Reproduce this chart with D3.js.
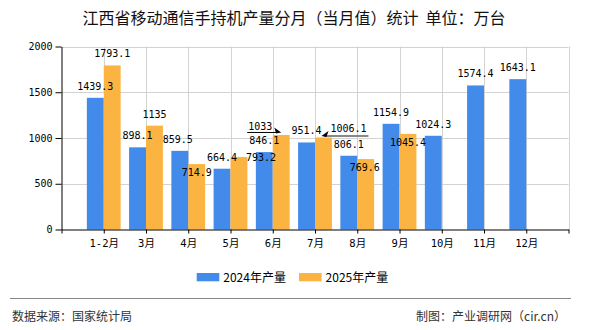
<!DOCTYPE html>
<html><head><meta charset="utf-8">
<script src="https://cdn.jsdelivr.net/npm/d3@7/dist/d3.min.js"></script>
<style>
html,body{margin:0;padding:0;background:#fff;}
svg{display:block;}
</style></head>
<body>
<svg id="chart" width="590" height="330"></svg>
<script>
const title = "江西省移动通信手持机产量分月（当月值）统计  单位：万台";
const categories = ["1-2月","3月","4月","5月","6月","7月","8月","9月","10月","11月","12月"];
const series2024 = [1439.3, 898.1, 859.5, 664.4, 846.1, 951.4, 806.1, 1154.9, 1024.3, 1574.4, 1643.1];
const series2025 = [1793.1, 1135, 714.9, 793.2, 1033, 1006.1, 769.6, 1045.4, null, null, null];
const seriesNames = ["2024年产量", "2025年产量"];
const yTicks = [0, 500, 1000, 1500, 2000];
const sourceText = "数据来源：国家统计局";
const creditText = "制图：产业调研网（cir.cn）";

// layout / style (not data)
const colors = ["#428BEB", "#FBB342"];
const M = {left: 61.5, right: 568.5, top: 46.5, bottom: 229.5};
// label nudges [series-index] = [dx, dy] relative to default position
const nudges = {
  "0-2": [-2, 0],
  "1-2": [0, 20],
  "1-3": [22, 12],
  "1-4": [-21, 3],
  "1-5": [25, 3],
  "1-6": [-1, 20],
  "1-7": [0, 20]
};

const svg = d3.select("#chart");
const monoFont = "'DejaVu Sans Mono', 'Noto Sans CJK SC', monospace";
const cjkFont = "'Noto Sans CJK SC', 'DejaVu Sans', sans-serif";

const x = d3.scalePoint()
  .domain(["__s", ...categories, "__e"])
  .range([M.left, M.right]);
const step = x.step();
const barW = step * 0.4;

const y = d3.scaleLinear().domain([0, 2000]).range([M.bottom, M.top]);

// title
svg.append("text")
  .attr("x", 294).attr("y", 24)
  .attr("text-anchor", "middle")
  .attr("font-family", cjkFont)
  .attr("font-size", 16)
  .attr("fill", "#111")
  .style("white-space", "pre")
  .text(title);

// grid
const grid = svg.append("g");
grid.selectAll("line.h").data(yTicks.filter(d => d > 0)).enter().append("line")
  .attr("x1", M.left).attr("x2", M.right)
  .attr("y1", d => Math.round(y(d)) + 0.5).attr("y2", d => Math.round(y(d)) + 0.5)
  .attr("stroke", "#d3d3d3").attr("stroke-width", 1);
grid.selectAll("line.v").data(x.domain().slice(1)).enter().append("line")
  .attr("x1", d => Math.round(x(d)) + 0.5).attr("x2", d => Math.round(x(d)) + 0.5)
  .attr("y1", y(2000)).attr("y2", M.bottom)
  .attr("stroke", "#d3d3d3").attr("stroke-width", 1);

// bars
const all = [series2024, series2025];
all.forEach((vals, si) => {
  svg.append("g").selectAll("rect").data(categories.map((c, i) => ({c, v: vals[i]})).filter(d => d.v != null))
    .enter().append("rect")
    .attr("x", d => x(d.c) + (si === 0 ? -barW : 0))
    .attr("width", barW)
    .attr("y", d => y(d.v))
    .attr("height", d => y(0) - y(d.v))
    .attr("fill", colors[si]);
});

// axes
const yAxis = svg.append("g")
  .attr("transform", `translate(${M.left},0)`)
  .call(d3.axisLeft(y).tickValues(yTicks).tickFormat(d3.format("d"))
    .tickSize(6).tickSizeOuter(0).tickPadding(3));
const xAxis = svg.append("g")
  .attr("transform", `translate(0,${M.bottom})`)
  .call(d3.axisBottom(x).tickSize(4).tickSizeOuter(0).tickPadding(6)
    .tickFormat(d => d.startsWith("__") ? "" : d));
[yAxis, xAxis].forEach(g => {
  g.selectAll("path, line").attr("stroke", "#000");
  g.selectAll("text").attr("fill", "#000").attr("font-family", monoFont);
});
yAxis.selectAll("text").attr("font-size", 10);
xAxis.selectAll("text").attr("font-size", 10.5);

// labels
all.forEach((vals, si) => {
  vals.forEach((v, i) => {
    if (v == null) return;
    const cx = x(categories[i]) + (si === 0 ? -barW / 2 : barW / 2);
    const n = nudges[si + "-" + i] || [0, 0];
    svg.append("text")
      .attr("x", cx + n[0])
      .attr("y", y(v) - 8 + n[1])
      .attr("text-anchor", "middle")
      .attr("font-family", monoFont)
      .attr("font-size", 10)
      .attr("fill", "#000")
      .text(v);
  });
});

// leader lines for displaced labels
function leader(i, x1, x2, ly, color, arrowAtEnd) {
  const bx = x(categories[i]) + barW / 2;
  const top = y(series2025[i]);
  const g = svg.append("g");
  g.append("line").attr("x1", bx + x1).attr("x2", bx + x2)
    .attr("y1", top + ly).attr("y2", top + ly)
    .attr("stroke", color).attr("stroke-width", arrowAtEnd ? 1 : 2);
  const ax = arrowAtEnd ? bx + x2 : bx + x1;
  const dir = arrowAtEnd ? 1 : -1;
  g.append("path")
    .attr("d", `M${ax + dir * 3},${top + ly} L${ax - dir * 4},${top + ly - 5} L${ax - dir * 2},${top + ly + 1} Z`)
    .attr("fill", "#000");
}
leader(4, -34, -3, -2.5, "#000", true);
leader(5, 1, 45, -1.5, "#888", false);

// legend
const lg = svg.append("g");
const legendX = [196.7, 299];
seriesNames.forEach((name, i) => {
  lg.append("rect").attr("x", legendX[i]).attr("y", 273).attr("width", 22.6).attr("height", 8.3)
    .attr("fill", colors[i]);
  lg.append("text").attr("x", legendX[i] + 26.6).attr("y", 281.5)
    .attr("font-family", cjkFont).attr("font-size", 12).attr("fill", "#000")
    .text(name);
});

// footer
svg.append("line").attr("x1", 10).attr("x2", 571).attr("y1", 298.5).attr("y2", 298.5)
  .attr("stroke", "#888").attr("stroke-width", 1);
svg.append("text").attr("x", 12).attr("y", 321)
  .attr("font-family", cjkFont).attr("font-size", 12).attr("fill", "#333").text(sourceText);
svg.append("text").attr("x", 566).attr("y", 321).attr("text-anchor", "end")
  .attr("font-family", cjkFont).attr("font-size", 12).attr("fill", "#333").text(creditText);
</script>
</body></html>
